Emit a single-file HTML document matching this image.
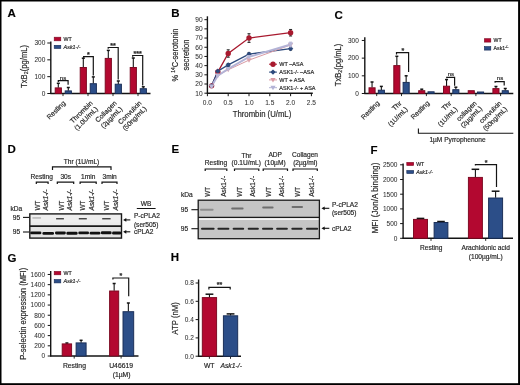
<!DOCTYPE html>
<html><head><meta charset="utf-8"><style>
html,body{margin:0;padding:0;background:#fff;}
body{width:520px;height:385px;overflow:hidden;position:relative;}
svg{position:absolute;left:0;top:0;font-family:"Liberation Sans", sans-serif;filter:blur(0.35px);}
text{stroke:#2a2a2a;stroke-width:0.18px;}
.tk{stroke-width:0.05px;fill:#333;}
</style></head><body>
<svg width="520" height="385" viewBox="0 0 520 385">
<rect x="0" y="0" width="520" height="385" fill="#fff"/>
<text x="7.60" y="16.80" font-size="11.5" text-anchor="start" font-weight="bold" fill="#000">A</text>
<line x1="50.80" y1="41.50" x2="50.80" y2="94.00" stroke="#141414" stroke-width="1.4" />
<line x1="47.30" y1="93.50" x2="50.80" y2="93.50" stroke="#141414" stroke-width="1" />
<text x="45.30" y="95.83" font-size="6.5" text-anchor="end" fill="#262626" class="tk">0</text>
<line x1="47.30" y1="76.67" x2="50.80" y2="76.67" stroke="#141414" stroke-width="1" />
<text x="45.30" y="79.00" font-size="6.5" text-anchor="end" fill="#262626" class="tk">100</text>
<line x1="47.30" y1="59.84" x2="50.80" y2="59.84" stroke="#141414" stroke-width="1" />
<text x="45.30" y="62.17" font-size="6.5" text-anchor="end" fill="#262626" class="tk">200</text>
<line x1="47.30" y1="43.01" x2="50.80" y2="43.01" stroke="#141414" stroke-width="1" />
<text x="45.30" y="45.34" font-size="6.5" text-anchor="end" fill="#262626" class="tk">300</text>
<line x1="50.30" y1="93.50" x2="150.50" y2="93.50" stroke="#141414" stroke-width="1.4" />
<line x1="63.00" y1="93.50" x2="63.00" y2="96.10" stroke="#141414" stroke-width="0.9" />
<line x1="88.00" y1="93.50" x2="88.00" y2="96.10" stroke="#141414" stroke-width="0.9" />
<line x1="113.00" y1="93.50" x2="113.00" y2="96.10" stroke="#141414" stroke-width="0.9" />
<line x1="138.00" y1="93.50" x2="138.00" y2="96.10" stroke="#141414" stroke-width="0.9" />
<line x1="58.30" y1="83.30" x2="58.30" y2="87.70" stroke="#141414" stroke-width="1.1" />
<line x1="56.80" y1="83.30" x2="59.80" y2="83.30" stroke="#141414" stroke-width="1.5" />
<rect x="55.20" y="87.90" width="6.20" height="5.60" fill="#b30830" stroke="#7a0820" stroke-width="0.95"/>
<line x1="68.30" y1="87.50" x2="68.30" y2="90.70" stroke="#141414" stroke-width="1.1" />
<line x1="66.80" y1="87.50" x2="69.80" y2="87.50" stroke="#141414" stroke-width="1.5" />
<rect x="65.20" y="90.90" width="6.20" height="2.60" fill="#2c4e88" stroke="#182c55" stroke-width="0.95"/>
<line x1="83.30" y1="58.20" x2="83.30" y2="67.30" stroke="#141414" stroke-width="1.1" />
<line x1="81.80" y1="58.20" x2="84.80" y2="58.20" stroke="#141414" stroke-width="1.5" />
<rect x="80.20" y="67.50" width="6.20" height="26.00" fill="#b30830" stroke="#7a0820" stroke-width="0.95"/>
<line x1="93.30" y1="76.90" x2="93.30" y2="83.50" stroke="#141414" stroke-width="1.1" />
<line x1="91.80" y1="76.90" x2="94.80" y2="76.90" stroke="#141414" stroke-width="1.5" />
<rect x="90.20" y="83.70" width="6.20" height="9.80" fill="#2c4e88" stroke="#182c55" stroke-width="0.95"/>
<line x1="108.30" y1="50.40" x2="108.30" y2="58.20" stroke="#141414" stroke-width="1.1" />
<line x1="106.80" y1="50.40" x2="109.80" y2="50.40" stroke="#141414" stroke-width="1.5" />
<rect x="105.20" y="58.40" width="6.20" height="35.10" fill="#b30830" stroke="#7a0820" stroke-width="0.95"/>
<line x1="118.30" y1="81.00" x2="118.30" y2="84.00" stroke="#141414" stroke-width="1.1" />
<line x1="116.80" y1="81.00" x2="119.80" y2="81.00" stroke="#141414" stroke-width="1.5" />
<rect x="115.20" y="84.20" width="6.20" height="9.30" fill="#2c4e88" stroke="#182c55" stroke-width="0.95"/>
<line x1="133.30" y1="58.00" x2="133.30" y2="67.30" stroke="#141414" stroke-width="1.1" />
<line x1="131.80" y1="58.00" x2="134.80" y2="58.00" stroke="#141414" stroke-width="1.5" />
<rect x="130.20" y="67.50" width="6.20" height="26.00" fill="#b30830" stroke="#7a0820" stroke-width="0.95"/>
<line x1="143.30" y1="86.80" x2="143.30" y2="88.50" stroke="#141414" stroke-width="1.1" />
<line x1="141.80" y1="86.80" x2="144.80" y2="86.80" stroke="#141414" stroke-width="1.5" />
<rect x="140.20" y="88.70" width="6.20" height="4.80" fill="#2c4e88" stroke="#182c55" stroke-width="0.95"/>
<path d="M58.30,81.90 L58.30,80.70 L68.10,80.70 L68.10,84.80" fill="none" stroke="#141414" stroke-width="1.2" />
<text x="63.00" y="79.55" font-size="6.0" text-anchor="middle" fill="#262626">ns</text>
<path d="M83.60,57.80 L83.60,56.60 L93.30,56.60 L93.30,75.60" fill="none" stroke="#141414" stroke-width="1.2" />
<text x="88.40" y="56.50" font-size="7" text-anchor="middle" font-weight="bold" fill="#262626">*</text>
<path d="M108.20,48.70 L108.20,47.50 L118.20,47.50 L118.20,79.60" fill="none" stroke="#141414" stroke-width="1.2" />
<text x="113.00" y="47.60" font-size="7" text-anchor="middle" font-weight="bold" fill="#262626">**</text>
<path d="M132.70,56.70 L132.70,55.50 L142.70,55.50 L142.70,85.60" fill="none" stroke="#141414" stroke-width="1.2" />
<text x="137.60" y="55.90" font-size="7" text-anchor="middle" font-weight="bold" fill="#262626">***</text>
<rect x="54.20" y="37.20" width="6.60" height="3.60" fill="#b30830" stroke="#7a0820" stroke-width="0.6"/>
<text x="63.60" y="40.90" font-size="5.3" text-anchor="start" fill="#262626">WT</text>
<rect x="54.20" y="45.30" width="6.60" height="3.20" fill="#2c4e88" stroke="#182c55" stroke-width="0.6"/>
<text x="63.60" y="48.93" font-size="5.4" text-anchor="start" font-style="italic" fill="#262626">Ask1-/-</text>
<text x="26.60" y="66.40" font-size="8.8" text-anchor="middle" fill="#262626" transform="rotate(-90 26.60 66.40)" textLength="43" lengthAdjust="spacingAndGlyphs">TxB<tspan font-size="6" dy="1.6">2</tspan><tspan dy="-1.6">(pg/mL)</tspan></text>
<text x="57.72" y="111.72" font-size="6.8" text-anchor="middle" fill="#262626" transform="rotate(-45 57.72 111.72)">Resting</text>
<text x="82.97" y="113.62" font-size="6.8" text-anchor="middle" fill="#262626" transform="rotate(-45 82.97 113.62)">Thrombin</text>
<text x="87.72" y="120.12" font-size="6.8" text-anchor="middle" fill="#262626" transform="rotate(-45 87.72 120.12)">(1.0U/mL)</text>
<text x="107.62" y="113.17" font-size="6.8" text-anchor="middle" fill="#262626" transform="rotate(-45 107.62 113.17)">Collagen</text>
<text x="113.22" y="119.07" font-size="6.8" text-anchor="middle" fill="#262626" transform="rotate(-45 113.22 119.07)">(2µg/mL)</text>
<text x="131.42" y="114.07" font-size="6.8" text-anchor="middle" fill="#262626" transform="rotate(-45 131.42 114.07)">Convulxin</text>
<text x="136.17" y="120.12" font-size="6.8" text-anchor="middle" fill="#262626" transform="rotate(-45 136.17 120.12)">(50ng/mL)</text>
<text x="171.20" y="16.90" font-size="11.5" text-anchor="start" font-weight="bold" fill="#000">B</text>
<line x1="207.40" y1="16.30" x2="207.40" y2="93.70" stroke="#141414" stroke-width="1.4" />
<line x1="204.40" y1="93.20" x2="207.40" y2="93.20" stroke="#141414" stroke-width="1" />
<text x="202.60" y="95.56" font-size="6.6" text-anchor="end" fill="#262626" class="tk">10</text>
<line x1="204.40" y1="84.01" x2="207.40" y2="84.01" stroke="#141414" stroke-width="1" />
<text x="202.60" y="86.37" font-size="6.6" text-anchor="end" fill="#262626" class="tk">20</text>
<line x1="204.40" y1="74.82" x2="207.40" y2="74.82" stroke="#141414" stroke-width="1" />
<text x="202.60" y="77.18" font-size="6.6" text-anchor="end" fill="#262626" class="tk">30</text>
<line x1="204.40" y1="65.63" x2="207.40" y2="65.63" stroke="#141414" stroke-width="1" />
<text x="202.60" y="67.99" font-size="6.6" text-anchor="end" fill="#262626" class="tk">40</text>
<line x1="204.40" y1="56.44" x2="207.40" y2="56.44" stroke="#141414" stroke-width="1" />
<text x="202.60" y="58.80" font-size="6.6" text-anchor="end" fill="#262626" class="tk">50</text>
<line x1="204.40" y1="47.25" x2="207.40" y2="47.25" stroke="#141414" stroke-width="1" />
<text x="202.60" y="49.61" font-size="6.6" text-anchor="end" fill="#262626" class="tk">60</text>
<line x1="204.40" y1="38.06" x2="207.40" y2="38.06" stroke="#141414" stroke-width="1" />
<text x="202.60" y="40.42" font-size="6.6" text-anchor="end" fill="#262626" class="tk">70</text>
<line x1="204.40" y1="28.87" x2="207.40" y2="28.87" stroke="#141414" stroke-width="1" />
<text x="202.60" y="31.23" font-size="6.6" text-anchor="end" fill="#262626" class="tk">80</text>
<line x1="204.40" y1="19.68" x2="207.40" y2="19.68" stroke="#141414" stroke-width="1" />
<text x="202.60" y="22.04" font-size="6.6" text-anchor="end" fill="#262626" class="tk">90</text>
<line x1="206.90" y1="93.20" x2="312.80" y2="93.20" stroke="#141414" stroke-width="1.4" />
<line x1="207.40" y1="93.20" x2="207.40" y2="96.20" stroke="#141414" stroke-width="1" />
<text x="207.40" y="105.26" font-size="6.6" text-anchor="middle" fill="#262626" class="tk">0.0</text>
<line x1="228.20" y1="93.20" x2="228.20" y2="96.20" stroke="#141414" stroke-width="1" />
<text x="228.20" y="105.26" font-size="6.6" text-anchor="middle" fill="#262626" class="tk">0.5</text>
<line x1="249.00" y1="93.20" x2="249.00" y2="96.20" stroke="#141414" stroke-width="1" />
<text x="249.00" y="105.26" font-size="6.6" text-anchor="middle" fill="#262626" class="tk">1.0</text>
<line x1="269.80" y1="93.20" x2="269.80" y2="96.20" stroke="#141414" stroke-width="1" />
<text x="269.80" y="105.26" font-size="6.6" text-anchor="middle" fill="#262626" class="tk">1.5</text>
<line x1="290.60" y1="93.20" x2="290.60" y2="96.20" stroke="#141414" stroke-width="1" />
<text x="290.60" y="105.26" font-size="6.6" text-anchor="middle" fill="#262626" class="tk">2.0</text>
<line x1="311.40" y1="93.20" x2="311.40" y2="96.20" stroke="#141414" stroke-width="1" />
<text x="311.40" y="105.26" font-size="6.6" text-anchor="middle" fill="#262626" class="tk">2.5</text>
<text x="262.00" y="117.24" font-size="8.5" text-anchor="middle" fill="#262626" textLength="58.5" lengthAdjust="spacingAndGlyphs">Thrombin (U/mL)</text>
<text x="178.00" y="55.00" font-size="8.4" text-anchor="middle" fill="#262626" transform="rotate(-90 178.00 55.00)" textLength="52.8" lengthAdjust="spacingAndGlyphs">% <tspan font-size="5.4" dy="-2.7">14</tspan><tspan dy="2.7">C-serotonin</tspan></text>
<text x="188.90" y="55.00" font-size="8.4" text-anchor="middle" fill="#262626" transform="rotate(-90 188.90 55.00)" textLength="31" lengthAdjust="spacingAndGlyphs">secretion</text>
<polyline points="211.56,85.85 217.80,72.06 228.20,53.50 249.00,38.06 290.60,32.73" fill="none" stroke="#a8192e" stroke-width="1.3"/>
<polyline points="211.56,85.85 217.80,71.14 228.20,64.89 249.00,54.14 290.60,48.63" fill="none" stroke="#2d4a7d" stroke-width="1.3"/>
<polyline points="211.56,86.77 217.80,75.28 228.20,69.77 249.00,60.12 290.60,44.95" fill="none" stroke="#d99aa4" stroke-width="1.0"/>
<polyline points="211.56,86.31 217.80,75.74 228.20,68.85 249.00,56.90 290.60,44.49" fill="none" stroke="#b3b3d6" stroke-width="1.9"/>
<circle cx="211.56" cy="85.85" r="2.7" fill="#a8192e"/>
<circle cx="217.80" cy="72.06" r="2.7" fill="#a8192e"/>
<line x1="228.20" y1="49.82" x2="228.20" y2="57.18" stroke="#2a2a2a" stroke-width="0.9" />
<line x1="226.70" y1="49.82" x2="229.70" y2="49.82" stroke="#2a2a2a" stroke-width="1.1" />
<line x1="226.70" y1="57.18" x2="229.70" y2="57.18" stroke="#2a2a2a" stroke-width="1.1" />
<circle cx="228.20" cy="53.50" r="2.7" fill="#a8192e"/>
<line x1="249.00" y1="33.74" x2="249.00" y2="42.38" stroke="#2a2a2a" stroke-width="0.9" />
<line x1="247.50" y1="33.74" x2="250.50" y2="33.74" stroke="#2a2a2a" stroke-width="1.1" />
<line x1="247.50" y1="42.38" x2="250.50" y2="42.38" stroke="#2a2a2a" stroke-width="1.1" />
<circle cx="249.00" cy="38.06" r="2.7" fill="#a8192e"/>
<line x1="290.60" y1="29.51" x2="290.60" y2="35.95" stroke="#2a2a2a" stroke-width="0.9" />
<line x1="289.10" y1="29.51" x2="292.10" y2="29.51" stroke="#2a2a2a" stroke-width="1.1" />
<line x1="289.10" y1="35.95" x2="292.10" y2="35.95" stroke="#2a2a2a" stroke-width="1.1" />
<circle cx="290.60" cy="32.73" r="2.7" fill="#a8192e"/>
<path d="M208.86,85.85 L211.56,83.15 L214.26,85.85 L211.56,88.55 Z" fill="#2d4a7d"/>
<path d="M215.10,71.14 L217.80,68.44 L220.50,71.14 L217.80,73.84 Z" fill="#2d4a7d"/>
<line x1="228.20" y1="63.52" x2="228.20" y2="66.27" stroke="#2a2a2a" stroke-width="0.9" />
<line x1="226.70" y1="63.52" x2="229.70" y2="63.52" stroke="#2a2a2a" stroke-width="1.1" />
<line x1="226.70" y1="66.27" x2="229.70" y2="66.27" stroke="#2a2a2a" stroke-width="1.1" />
<path d="M225.50,64.89 L228.20,62.19 L230.90,64.89 L228.20,67.59 Z" fill="#2d4a7d"/>
<line x1="249.00" y1="52.76" x2="249.00" y2="55.52" stroke="#2a2a2a" stroke-width="0.9" />
<line x1="247.50" y1="52.76" x2="250.50" y2="52.76" stroke="#2a2a2a" stroke-width="1.1" />
<line x1="247.50" y1="55.52" x2="250.50" y2="55.52" stroke="#2a2a2a" stroke-width="1.1" />
<path d="M246.30,54.14 L249.00,51.44 L251.70,54.14 L249.00,56.84 Z" fill="#2d4a7d"/>
<line x1="290.60" y1="47.25" x2="290.60" y2="50.01" stroke="#2a2a2a" stroke-width="0.9" />
<line x1="289.10" y1="47.25" x2="292.10" y2="47.25" stroke="#2a2a2a" stroke-width="1.1" />
<line x1="289.10" y1="50.01" x2="292.10" y2="50.01" stroke="#2a2a2a" stroke-width="1.1" />
<path d="M287.90,48.63 L290.60,45.93 L293.30,48.63 L290.60,51.33 Z" fill="#2d4a7d"/>
<path d="M208.96,84.87 L214.16,84.87 L211.56,89.37 Z" fill="#dca2ab"/>
<path d="M215.20,73.38 L220.40,73.38 L217.80,77.88 Z" fill="#dca2ab"/>
<path d="M225.60,67.87 L230.80,67.87 L228.20,72.37 Z" fill="#dca2ab"/>
<path d="M246.40,58.22 L251.60,58.22 L249.00,62.72 Z" fill="#dca2ab"/>
<path d="M288.00,43.05 L293.20,43.05 L290.60,47.55 Z" fill="#dca2ab"/>
<path d="M208.96,84.41 L214.16,84.41 L211.56,88.91 Z" fill="#b8b8d8"/>
<path d="M215.20,73.84 L220.40,73.84 L217.80,78.34 Z" fill="#b8b8d8"/>
<path d="M225.60,66.95 L230.80,66.95 L228.20,71.45 Z" fill="#b8b8d8"/>
<path d="M246.40,55.00 L251.60,55.00 L249.00,59.50 Z" fill="#b8b8d8"/>
<line x1="290.60" y1="42.20" x2="290.60" y2="46.79" stroke="#b3b3d6" stroke-width="0.9" />
<line x1="289.10" y1="42.20" x2="292.10" y2="42.20" stroke="#b3b3d6" stroke-width="1.1" />
<line x1="289.10" y1="46.79" x2="292.10" y2="46.79" stroke="#b3b3d6" stroke-width="1.1" />
<path d="M288.00,42.59 L293.20,42.59 L290.60,47.09 Z" fill="#b8b8d8"/>
<line x1="269.00" y1="64.20" x2="277.00" y2="64.20" stroke="#a8192e" stroke-width="1" />
<circle cx="273.00" cy="64.20" r="2.7" fill="#a8192e"/>
<text x="279.30" y="66.17" font-size="5.5" text-anchor="start" fill="#262626">WT –ASA</text>
<line x1="269.00" y1="72.10" x2="277.00" y2="72.10" stroke="#2d4a7d" stroke-width="1" />
<path d="M270.30,72.10 L273.00,69.40 L275.70,72.10 L273.00,74.80 Z" fill="#2d4a7d"/>
<text x="279.30" y="74.07" font-size="5.5" text-anchor="start" fill="#262626">ASK1-/- –ASA</text>
<line x1="269.00" y1="79.90" x2="277.00" y2="79.90" stroke="#d99aa4" stroke-width="1" />
<path d="M270.40,78.00 L275.60,78.00 L273.00,82.50 Z" fill="#d99aa4"/>
<text x="279.30" y="81.87" font-size="5.5" text-anchor="start" fill="#262626">WT + ASA</text>
<line x1="269.00" y1="87.70" x2="277.00" y2="87.70" stroke="#b3b3d6" stroke-width="1" />
<path d="M270.40,85.80 L275.60,85.80 L273.00,90.30 Z" fill="#b3b3d6"/>
<text x="279.30" y="89.67" font-size="5.5" text-anchor="start" fill="#262626">ASK1-/- + ASA</text>
<text x="334.60" y="18.60" font-size="11.5" text-anchor="start" font-weight="bold" fill="#000">C</text>
<line x1="364.80" y1="37.30" x2="364.80" y2="94.00" stroke="#141414" stroke-width="1.4" />
<line x1="361.80" y1="93.50" x2="364.80" y2="93.50" stroke="#141414" stroke-width="1" />
<text x="358.80" y="95.83" font-size="6.5" text-anchor="end" fill="#262626" class="tk">0</text>
<line x1="361.80" y1="75.82" x2="364.80" y2="75.82" stroke="#141414" stroke-width="1" />
<text x="358.80" y="78.15" font-size="6.5" text-anchor="end" fill="#262626" class="tk">100</text>
<line x1="361.80" y1="58.14" x2="364.80" y2="58.14" stroke="#141414" stroke-width="1" />
<text x="358.80" y="60.47" font-size="6.5" text-anchor="end" fill="#262626" class="tk">200</text>
<line x1="361.80" y1="40.46" x2="364.80" y2="40.46" stroke="#141414" stroke-width="1" />
<text x="358.80" y="42.79" font-size="6.5" text-anchor="end" fill="#262626" class="tk">300</text>
<line x1="364.30" y1="93.50" x2="513.30" y2="93.50" stroke="#141414" stroke-width="1.4" />
<line x1="376.70" y1="93.50" x2="376.70" y2="96.10" stroke="#141414" stroke-width="0.9" />
<line x1="401.50" y1="93.50" x2="401.50" y2="96.10" stroke="#141414" stroke-width="0.9" />
<line x1="426.40" y1="93.50" x2="426.40" y2="96.10" stroke="#141414" stroke-width="0.9" />
<line x1="451.20" y1="93.50" x2="451.20" y2="96.10" stroke="#141414" stroke-width="0.9" />
<line x1="475.90" y1="93.50" x2="475.90" y2="96.10" stroke="#141414" stroke-width="0.9" />
<line x1="500.60" y1="93.50" x2="500.60" y2="96.10" stroke="#141414" stroke-width="0.9" />
<line x1="372.05" y1="82.00" x2="372.05" y2="87.60" stroke="#141414" stroke-width="1.1" />
<line x1="370.55" y1="82.00" x2="373.55" y2="82.00" stroke="#141414" stroke-width="1.5" />
<rect x="369.00" y="87.80" width="6.10" height="5.70" fill="#b30830" stroke="#7a0820" stroke-width="0.95"/>
<line x1="381.35" y1="86.40" x2="381.35" y2="90.00" stroke="#141414" stroke-width="1.1" />
<line x1="379.85" y1="86.40" x2="382.85" y2="86.40" stroke="#141414" stroke-width="1.5" />
<rect x="378.30" y="90.20" width="6.10" height="3.30" fill="#2c4e88" stroke="#182c55" stroke-width="0.95"/>
<line x1="396.85" y1="56.30" x2="396.85" y2="65.40" stroke="#141414" stroke-width="1.1" />
<line x1="395.35" y1="56.30" x2="398.35" y2="56.30" stroke="#141414" stroke-width="1.5" />
<rect x="393.80" y="65.60" width="6.10" height="27.90" fill="#b30830" stroke="#7a0820" stroke-width="0.95"/>
<line x1="406.15" y1="75.80" x2="406.15" y2="82.20" stroke="#141414" stroke-width="1.1" />
<line x1="404.65" y1="75.80" x2="407.65" y2="75.80" stroke="#141414" stroke-width="1.5" />
<rect x="403.10" y="82.40" width="6.10" height="11.10" fill="#2c4e88" stroke="#182c55" stroke-width="0.95"/>
<line x1="421.75" y1="89.20" x2="421.75" y2="90.50" stroke="#141414" stroke-width="1.1" />
<line x1="420.25" y1="89.20" x2="423.25" y2="89.20" stroke="#141414" stroke-width="1.5" />
<rect x="418.70" y="90.70" width="6.10" height="2.80" fill="#b30830" stroke="#7a0820" stroke-width="0.95"/>
<rect x="428.00" y="91.80" width="6.10" height="1.70" fill="#2c4e88" stroke="#182c55" stroke-width="0.95"/>
<line x1="446.55" y1="79.60" x2="446.55" y2="86.00" stroke="#141414" stroke-width="1.1" />
<line x1="445.05" y1="79.60" x2="448.05" y2="79.60" stroke="#141414" stroke-width="1.5" />
<rect x="443.50" y="86.20" width="6.10" height="7.30" fill="#b30830" stroke="#7a0820" stroke-width="0.95"/>
<line x1="455.85" y1="87.20" x2="455.85" y2="89.50" stroke="#141414" stroke-width="1.1" />
<line x1="454.35" y1="87.20" x2="457.35" y2="87.20" stroke="#141414" stroke-width="1.5" />
<rect x="452.80" y="89.70" width="6.10" height="3.80" fill="#2c4e88" stroke="#182c55" stroke-width="0.95"/>
<rect x="468.20" y="90.70" width="6.10" height="2.80" fill="#b30830" stroke="#7a0820" stroke-width="0.95"/>
<rect x="477.50" y="92.00" width="6.10" height="1.50" fill="#2c4e88" stroke="#182c55" stroke-width="0.95"/>
<line x1="495.95" y1="86.50" x2="495.95" y2="88.40" stroke="#141414" stroke-width="1.1" />
<line x1="494.45" y1="86.50" x2="497.45" y2="86.50" stroke="#141414" stroke-width="1.5" />
<rect x="492.90" y="88.60" width="6.10" height="4.90" fill="#b30830" stroke="#7a0820" stroke-width="0.95"/>
<line x1="505.25" y1="88.50" x2="505.25" y2="90.50" stroke="#141414" stroke-width="1.1" />
<line x1="503.75" y1="88.50" x2="506.75" y2="88.50" stroke="#141414" stroke-width="1.5" />
<rect x="502.20" y="90.70" width="6.10" height="2.80" fill="#2c4e88" stroke="#182c55" stroke-width="0.95"/>
<path d="M396.50,54.50 L396.50,52.60 L408.60,52.60 L408.60,71.90" fill="none" stroke="#141414" stroke-width="1.2" />
<text x="402.80" y="52.90" font-size="7" text-anchor="middle" font-weight="bold" fill="#262626">*</text>
<path d="M446.75,78.30 L446.75,77.30 L454.60,77.30 L454.60,85.70" fill="none" stroke="#141414" stroke-width="1.2" />
<text x="450.90" y="75.75" font-size="6.0" text-anchor="middle" fill="#262626">ns</text>
<path d="M495.10,82.70 L495.10,81.70 L504.20,81.70 L504.20,85.60" fill="none" stroke="#141414" stroke-width="1.2" />
<text x="500.00" y="80.25" font-size="6.0" text-anchor="middle" fill="#262626">ns</text>
<rect x="484.40" y="38.70" width="6.40" height="3.40" fill="#b30830" stroke="#7a0820" stroke-width="0.6"/>
<text x="493.60" y="42.26" font-size="5.2" text-anchor="start" fill="#262626">WT</text>
<rect x="484.40" y="46.60" width="6.40" height="3.50" fill="#2c4e88" stroke="#182c55" stroke-width="0.6"/>
<text x="493.60" y="50.26" font-size="5.2" text-anchor="start" fill="#262626">Ask1<tspan font-size="3.6" dy="-2.4">-/-</tspan></text>
<text x="340.80" y="64.90" font-size="8.8" text-anchor="middle" fill="#262626" transform="rotate(-90 340.80 64.90)" textLength="42.5" lengthAdjust="spacingAndGlyphs">TxB<tspan font-size="6" dy="1.6">2</tspan><tspan dy="-1.6">(pg/mL)</tspan></text>
<text x="371.82" y="111.72" font-size="6.8" text-anchor="middle" fill="#262626" transform="rotate(-45 371.82 111.72)">Resting</text>
<text x="398.42" y="107.42" font-size="6.8" text-anchor="middle" fill="#262626" transform="rotate(-45 398.42 107.42)">Thr</text>
<text x="399.52" y="118.42" font-size="6.8" text-anchor="middle" fill="#262626" transform="rotate(-45 399.52 118.42)">(1U/mL)</text>
<text x="421.72" y="111.72" font-size="6.8" text-anchor="middle" fill="#262626" transform="rotate(-45 421.72 111.72)">Resting</text>
<text x="448.22" y="107.42" font-size="6.8" text-anchor="middle" fill="#262626" transform="rotate(-45 448.22 107.42)">Thr</text>
<text x="449.22" y="118.42" font-size="6.8" text-anchor="middle" fill="#262626" transform="rotate(-45 449.22 118.42)">(1U/mL)</text>
<text x="468.12" y="112.72" font-size="6.8" text-anchor="middle" fill="#262626" transform="rotate(-45 468.12 112.72)">collagen</text>
<text x="472.92" y="118.62" font-size="6.8" text-anchor="middle" fill="#262626" transform="rotate(-45 472.92 118.62)">(2µg/mL)</text>
<text x="491.92" y="113.72" font-size="6.8" text-anchor="middle" fill="#262626" transform="rotate(-45 491.92 113.72)">convulxin</text>
<text x="496.72" y="120.42" font-size="6.8" text-anchor="middle" fill="#262626" transform="rotate(-45 496.72 120.42)">(50ng/mL)</text>
<path d="M418.4,128.6 L418.4,133.3 L513.3,133.3" fill="none" stroke="#141414" stroke-width="1.1" />
<text x="457.50" y="142.36" font-size="6.6" text-anchor="middle" fill="#262626">1µM Pyrrophenone</text>
<text x="7.40" y="152.70" font-size="11.5" text-anchor="start" font-weight="bold" fill="#000">D</text>
<text x="81.50" y="164.46" font-size="6.6" text-anchor="middle" fill="#262626">Thr (1U/mL)</text>
<path d="M52.50,170.00 L52.50,166.80 L111.00,166.80 L111.00,170.00" fill="none" stroke="#141414" stroke-width="1.2" />
<text x="41.75" y="179.36" font-size="6.6" text-anchor="middle" fill="#262626">Resting</text>
<text x="65.75" y="179.36" font-size="6.6" text-anchor="middle" fill="#262626">30s</text>
<text x="88.25" y="179.36" font-size="6.6" text-anchor="middle" fill="#262626">1min</text>
<text x="109.65" y="179.36" font-size="6.6" text-anchor="middle" fill="#262626">3min</text>
<path d="M36.30,184.10 L36.30,182.10 L48.10,182.10 L48.10,184.10" fill="none" stroke="#141414" stroke-width="1.2" />
<path d="M57.30,184.10 L57.30,182.10 L73.70,182.10 L73.70,184.10" fill="none" stroke="#141414" stroke-width="1.2" />
<path d="M80.10,184.10 L80.10,182.10 L96.20,182.10 L96.20,184.10" fill="none" stroke="#141414" stroke-width="1.2" />
<path d="M102.00,184.10 L102.00,182.10 L117.00,182.10 L117.00,184.10" fill="none" stroke="#141414" stroke-width="1.2" />
<text x="39.54" y="210.50" font-size="6.4" text-anchor="start" fill="#262626" transform="rotate(-90 39.54 210.50)">WT</text>
<text x="63.89" y="210.50" font-size="6.4" text-anchor="start" fill="#262626" transform="rotate(-90 63.89 210.50)">WT</text>
<text x="85.09" y="210.50" font-size="6.4" text-anchor="start" fill="#262626" transform="rotate(-90 85.09 210.50)">WT</text>
<text x="109.09" y="210.50" font-size="6.4" text-anchor="start" fill="#262626" transform="rotate(-90 109.09 210.50)">WT</text>
<text x="47.86" y="210.50" font-size="6.6" text-anchor="start" font-style="italic" fill="#262626" transform="rotate(-90 47.86 210.50)">Ask1-/-</text>
<text x="72.36" y="210.50" font-size="6.6" text-anchor="start" font-style="italic" fill="#262626" transform="rotate(-90 72.36 210.50)">Ask1-/-</text>
<text x="93.86" y="210.50" font-size="6.6" text-anchor="start" font-style="italic" fill="#262626" transform="rotate(-90 93.86 210.50)">Ask1-/-</text>
<text x="117.56" y="210.50" font-size="6.6" text-anchor="start" font-style="italic" fill="#262626" transform="rotate(-90 117.56 210.50)">Ask1-/-</text>
<text x="16.30" y="211.06" font-size="6.6" text-anchor="middle" fill="#262626">kDa</text>
<text x="16.50" y="219.56" font-size="6.6" text-anchor="middle" fill="#262626">95</text>
<line x1="23.00" y1="217.40" x2="29.50" y2="217.40" stroke="#141414" stroke-width="1.1" />
<text x="16.50" y="234.26" font-size="6.6" text-anchor="middle" fill="#262626">95</text>
<line x1="23.00" y1="232.00" x2="29.50" y2="232.00" stroke="#141414" stroke-width="1.1" />
<rect x="29.80" y="213.90" width="91.70" height="24.20" fill="#ebebeb"/>
<rect x="29.80" y="213.90" width="91.70" height="8.50" fill="#eeeeee"/>
<rect x="29.80" y="226.60" width="91.70" height="11.50" fill="#e4e4e4"/>
<rect x="29.80" y="213.90" width="91.70" height="24.20" fill="none" stroke="#1a1a1a" stroke-width="1.4"/>
<line x1="29.80" y1="226.10" x2="121.50" y2="226.10" stroke="#1a1a1a" stroke-width="1.6" />
<rect x="32.40" y="217.3" width="8.60" height="1.3" fill="#222" opacity="0.3"/>
<rect x="56.10" y="218.1" width="7.80" height="1.3" fill="#222" opacity="0.9"/>
<rect x="78.80" y="218.1" width="8.00" height="1.3" fill="#222" opacity="0.9"/>
<rect x="102.20" y="218.1" width="8.40" height="1.3" fill="#222" opacity="0.9"/>
<rect x="30.20" y="231.4" width="11.20" height="2.9" rx="1.3" fill="#111"/>
<rect x="42.40" y="231.9" width="11.60" height="2.9" rx="1.3" fill="#111"/>
<rect x="55.00" y="231.5" width="10.80" height="2.9" rx="1.3" fill="#111"/>
<rect x="66.40" y="231.8" width="11.20" height="2.9" rx="1.3" fill="#111"/>
<rect x="78.30" y="231.4" width="10.70" height="2.9" rx="1.3" fill="#111"/>
<rect x="89.60" y="231.7" width="10.80" height="2.9" rx="1.3" fill="#111"/>
<rect x="100.90" y="231.3" width="10.70" height="2.9" rx="1.3" fill="#111"/>
<rect x="112.10" y="231.6" width="9.10" height="2.9" rx="1.3" fill="#111"/>
<line x1="125.10" y1="219.90" x2="130.30" y2="219.90" stroke="#111" stroke-width="1.1" />
<path d="M123.10,219.90 L126.30,218.00 L126.30,221.80 Z" fill="#111"/>
<line x1="125.10" y1="231.80" x2="130.30" y2="231.80" stroke="#111" stroke-width="1.1" />
<path d="M123.10,231.80 L126.30,229.90 L126.30,233.70 Z" fill="#111"/>
<text x="146.10" y="205.96" font-size="6.6" text-anchor="middle" fill="#262626">WB</text>
<line x1="136.80" y1="208.50" x2="155.60" y2="208.50" stroke="#141414" stroke-width="1" />
<text x="133.90" y="218.36" font-size="6.6" text-anchor="start" fill="#262626">P-cPLA2</text>
<text x="133.90" y="226.56" font-size="6.6" text-anchor="start" fill="#262626">(ser505)</text>
<text x="133.90" y="234.16" font-size="6.6" text-anchor="start" fill="#262626">cPLA2</text>
<text x="171.50" y="152.80" font-size="11.5" text-anchor="start" font-weight="bold" fill="#000">E</text>
<text x="215.90" y="165.16" font-size="6.6" text-anchor="middle" fill="#262626">Resting</text>
<text x="246.40" y="157.56" font-size="6.6" text-anchor="middle" fill="#262626">Thr</text>
<text x="246.20" y="165.16" font-size="6.6" text-anchor="middle" fill="#262626">(0.1U/mL)</text>
<text x="275.20" y="157.16" font-size="6.6" text-anchor="middle" fill="#262626">ADP</text>
<text x="275.10" y="165.16" font-size="6.6" text-anchor="middle" fill="#262626">(10µM)</text>
<text x="305.00" y="157.16" font-size="6.6" text-anchor="middle" fill="#262626">Collagen</text>
<text x="305.30" y="165.16" font-size="6.6" text-anchor="middle" fill="#262626">(2µg/ml)</text>
<path d="M205.20,171.00 L205.20,169.00 L226.80,169.00 L226.80,171.00" fill="none" stroke="#141414" stroke-width="1.2" />
<path d="M234.50,171.00 L234.50,169.00 L258.80,169.00 L258.80,171.00" fill="none" stroke="#141414" stroke-width="1.2" />
<path d="M263.20,171.00 L263.20,169.00 L287.50,169.00 L287.50,171.00" fill="none" stroke="#141414" stroke-width="1.2" />
<path d="M293.00,171.00 L293.00,169.00 L317.30,169.00 L317.30,171.00" fill="none" stroke="#141414" stroke-width="1.2" />
<text x="186.80" y="197.16" font-size="6.6" text-anchor="middle" fill="#262626">kDa</text>
<text x="210.39" y="196.80" font-size="6.4" text-anchor="start" fill="#262626" transform="rotate(-90 210.39 196.80)">WT</text>
<text x="241.59" y="196.80" font-size="6.4" text-anchor="start" fill="#262626" transform="rotate(-90 241.59 196.80)">WT</text>
<text x="270.59" y="196.80" font-size="6.4" text-anchor="start" fill="#262626" transform="rotate(-90 270.59 196.80)">WT</text>
<text x="300.09" y="196.80" font-size="6.4" text-anchor="start" fill="#262626" transform="rotate(-90 300.09 196.80)">WT</text>
<text x="225.76" y="196.80" font-size="6.6" text-anchor="start" fill="#262626" transform="rotate(-90 225.76 196.80)">Ask1-/-</text>
<text x="255.36" y="196.80" font-size="6.6" text-anchor="start" fill="#262626" transform="rotate(-90 255.36 196.80)">Ask1-/-</text>
<text x="284.46" y="196.80" font-size="6.6" text-anchor="start" fill="#262626" transform="rotate(-90 284.46 196.80)">Ask1-/-</text>
<text x="314.46" y="196.80" font-size="6.6" text-anchor="start" fill="#262626" transform="rotate(-90 314.46 196.80)">Ask1-/-</text>
<rect x="198.20" y="200.20" width="121.20" height="38.50" fill="#c5c5c5"/>
<rect x="198.20" y="218.40" width="121.20" height="1.40" fill="#ffffff"/>
<line x1="198.20" y1="217.40" x2="319.40" y2="217.40" stroke="#1a1a1a" stroke-width="1.4" />
<rect x="198.20" y="200.20" width="121.20" height="38.50" fill="none" stroke="#1a1a1a" stroke-width="1.3"/>
<rect x="200.00" y="208.8" width="13.60" height="1.9" rx="0.9" fill="#4a4a4a" opacity="0.45"/>
<rect x="231.20" y="207.5" width="12.40" height="1.9" rx="0.9" fill="#4a4a4a" opacity="0.7"/>
<rect x="262.20" y="206.6" width="11.40" height="1.9" rx="0.9" fill="#4a4a4a" opacity="0.7"/>
<rect x="291.60" y="206.0" width="11.40" height="1.9" rx="0.9" fill="#4a4a4a" opacity="0.7"/>
<rect x="201.00" y="227.7" width="13.60" height="2.1" rx="1" fill="#262626"/>
<rect x="217.40" y="227.7" width="12.00" height="2.1" rx="1" fill="#262626"/>
<rect x="232.60" y="227.7" width="11.60" height="2.1" rx="1" fill="#262626"/>
<rect x="247.70" y="227.7" width="11.20" height="2.1" rx="1" fill="#262626"/>
<rect x="262.00" y="227.7" width="11.20" height="2.1" rx="1" fill="#262626"/>
<rect x="276.10" y="227.7" width="11.80" height="2.1" rx="1" fill="#262626"/>
<rect x="291.30" y="227.7" width="11.30" height="2.1" rx="1" fill="#262626"/>
<rect x="306.00" y="227.7" width="12.20" height="2.1" rx="1" fill="#262626"/>
<text x="184.50" y="212.06" font-size="6.6" text-anchor="middle" fill="#262626">95</text>
<line x1="191.40" y1="209.70" x2="198.20" y2="209.70" stroke="#141414" stroke-width="1.1" />
<text x="184.50" y="231.06" font-size="6.6" text-anchor="middle" fill="#262626">95</text>
<line x1="191.40" y1="228.70" x2="198.20" y2="228.70" stroke="#141414" stroke-width="1.1" />
<line x1="323.50" y1="208.30" x2="329.30" y2="208.30" stroke="#111" stroke-width="1.1" />
<path d="M321.50,208.30 L324.70,206.40 L324.70,210.20 Z" fill="#111"/>
<line x1="323.50" y1="228.30" x2="329.30" y2="228.30" stroke="#111" stroke-width="1.1" />
<path d="M321.50,228.30 L324.70,226.40 L324.70,230.20 Z" fill="#111"/>
<text x="331.90" y="206.66" font-size="6.6" text-anchor="start" fill="#262626">P-cPLA2</text>
<text x="331.90" y="215.26" font-size="6.6" text-anchor="start" fill="#262626">(ser505)</text>
<text x="331.90" y="230.66" font-size="6.6" text-anchor="start" fill="#262626">cPLA2</text>
<text x="370.40" y="153.50" font-size="11.5" text-anchor="start" font-weight="bold" fill="#000">F</text>
<line x1="403.10" y1="163.50" x2="403.10" y2="238.80" stroke="#141414" stroke-width="1.4" />
<line x1="400.10" y1="238.30" x2="403.10" y2="238.30" stroke="#141414" stroke-width="1" />
<text x="397.40" y="240.63" font-size="6.5" text-anchor="end" fill="#262626" class="tk">0</text>
<line x1="400.10" y1="223.60" x2="403.10" y2="223.60" stroke="#141414" stroke-width="1" />
<text x="397.40" y="225.93" font-size="6.5" text-anchor="end" fill="#262626" class="tk">500</text>
<line x1="400.10" y1="208.90" x2="403.10" y2="208.90" stroke="#141414" stroke-width="1" />
<text x="397.40" y="211.23" font-size="6.5" text-anchor="end" fill="#262626" class="tk">1000</text>
<line x1="400.10" y1="194.20" x2="403.10" y2="194.20" stroke="#141414" stroke-width="1" />
<text x="397.40" y="196.53" font-size="6.5" text-anchor="end" fill="#262626" class="tk">1500</text>
<line x1="400.10" y1="179.50" x2="403.10" y2="179.50" stroke="#141414" stroke-width="1" />
<text x="397.40" y="181.83" font-size="6.5" text-anchor="end" fill="#262626" class="tk">2000</text>
<line x1="400.10" y1="164.80" x2="403.10" y2="164.80" stroke="#141414" stroke-width="1" />
<text x="397.40" y="167.13" font-size="6.5" text-anchor="end" fill="#262626" class="tk">2500</text>
<line x1="402.60" y1="238.30" x2="513.00" y2="238.30" stroke="#141414" stroke-width="1.4" />
<line x1="431.00" y1="238.30" x2="431.00" y2="240.90" stroke="#141414" stroke-width="0.9" />
<line x1="485.70" y1="238.30" x2="485.70" y2="240.90" stroke="#141414" stroke-width="0.9" />
<line x1="420.50" y1="218.40" x2="420.50" y2="219.20" stroke="#141414" stroke-width="1.1" />
<line x1="416.70" y1="218.40" x2="424.30" y2="218.40" stroke="#141414" stroke-width="1.5" />
<rect x="413.50" y="219.40" width="14.00" height="18.90" fill="#b30830" stroke="#7a0820" stroke-width="0.95"/>
<line x1="441.00" y1="221.50" x2="441.00" y2="222.30" stroke="#141414" stroke-width="1.1" />
<line x1="437.20" y1="221.50" x2="444.80" y2="221.50" stroke="#141414" stroke-width="1.5" />
<rect x="434.10" y="222.50" width="13.80" height="15.80" fill="#2c4e88" stroke="#182c55" stroke-width="0.95"/>
<line x1="475.40" y1="169.30" x2="475.40" y2="177.20" stroke="#141414" stroke-width="1.1" />
<line x1="471.60" y1="169.30" x2="479.20" y2="169.30" stroke="#141414" stroke-width="1.5" />
<rect x="468.40" y="177.40" width="14.00" height="60.90" fill="#b30830" stroke="#7a0820" stroke-width="0.95"/>
<line x1="495.60" y1="191.20" x2="495.60" y2="197.80" stroke="#141414" stroke-width="1.1" />
<line x1="491.70" y1="191.20" x2="499.50" y2="191.20" stroke="#141414" stroke-width="1.5" />
<rect x="488.60" y="198.00" width="14.00" height="40.30" fill="#2c4e88" stroke="#182c55" stroke-width="0.95"/>
<path d="M475.40,165.40 L475.40,164.60 L496.50,164.60 L496.50,187.10" fill="none" stroke="#141414" stroke-width="1.2" />
<text x="486.00" y="164.80" font-size="7" text-anchor="middle" font-weight="bold" fill="#262626">*</text>
<rect x="406.80" y="162.40" width="6.90" height="3.10" fill="#b30830" stroke="#7a0820" stroke-width="0.6"/>
<text x="416.20" y="165.96" font-size="5.2" text-anchor="start" fill="#262626">WT</text>
<rect x="406.80" y="170.50" width="6.90" height="3.00" fill="#2c4e88" stroke="#182c55" stroke-width="0.6"/>
<text x="416.20" y="174.00" font-size="5.3" text-anchor="start" font-style="italic" fill="#262626">Ask1-/-</text>
<text x="377.90" y="198.10" font-size="8.2" text-anchor="middle" fill="#262626" transform="rotate(-90 377.90 198.10)" textLength="71" lengthAdjust="spacingAndGlyphs">MFI (Jon/A binding)</text>
<text x="431.20" y="250.36" font-size="6.6" text-anchor="middle" fill="#262626">Resting</text>
<text x="485.70" y="250.36" font-size="6.6" text-anchor="middle" fill="#262626">Arachidonic acid</text>
<text x="485.70" y="259.36" font-size="6.6" text-anchor="middle" fill="#262626">(100µg/mL)</text>
<text x="7.60" y="262.00" font-size="11.5" text-anchor="start" font-weight="bold" fill="#000">G</text>
<line x1="50.70" y1="270.90" x2="50.70" y2="356.50" stroke="#141414" stroke-width="1.4" />
<line x1="47.70" y1="356.00" x2="50.70" y2="356.00" stroke="#141414" stroke-width="1" />
<text x="45.00" y="358.33" font-size="6.5" text-anchor="end" fill="#262626" class="tk">0</text>
<line x1="47.70" y1="345.81" x2="50.70" y2="345.81" stroke="#141414" stroke-width="1" />
<text x="45.00" y="348.14" font-size="6.5" text-anchor="end" fill="#262626" class="tk">200</text>
<line x1="47.70" y1="335.62" x2="50.70" y2="335.62" stroke="#141414" stroke-width="1" />
<text x="45.00" y="337.95" font-size="6.5" text-anchor="end" fill="#262626" class="tk">400</text>
<line x1="47.70" y1="325.43" x2="50.70" y2="325.43" stroke="#141414" stroke-width="1" />
<text x="45.00" y="327.76" font-size="6.5" text-anchor="end" fill="#262626" class="tk">600</text>
<line x1="47.70" y1="315.24" x2="50.70" y2="315.24" stroke="#141414" stroke-width="1" />
<text x="45.00" y="317.57" font-size="6.5" text-anchor="end" fill="#262626" class="tk">800</text>
<line x1="47.70" y1="305.05" x2="50.70" y2="305.05" stroke="#141414" stroke-width="1" />
<text x="45.00" y="307.38" font-size="6.5" text-anchor="end" fill="#262626" class="tk">1000</text>
<line x1="47.70" y1="294.86" x2="50.70" y2="294.86" stroke="#141414" stroke-width="1" />
<text x="45.00" y="297.19" font-size="6.5" text-anchor="end" fill="#262626" class="tk">1200</text>
<line x1="47.70" y1="284.67" x2="50.70" y2="284.67" stroke="#141414" stroke-width="1" />
<text x="45.00" y="287.00" font-size="6.5" text-anchor="end" fill="#262626" class="tk">1400</text>
<line x1="47.70" y1="274.48" x2="50.70" y2="274.48" stroke="#141414" stroke-width="1" />
<text x="45.00" y="276.81" font-size="6.5" text-anchor="end" fill="#262626" class="tk">1600</text>
<line x1="50.20" y1="356.00" x2="138.50" y2="356.00" stroke="#141414" stroke-width="1.4" />
<line x1="74.20" y1="356.00" x2="74.20" y2="358.60" stroke="#141414" stroke-width="0.9" />
<line x1="121.10" y1="356.00" x2="121.10" y2="358.60" stroke="#141414" stroke-width="0.9" />
<line x1="66.90" y1="343.00" x2="66.90" y2="343.70" stroke="#141414" stroke-width="1.1" />
<line x1="65.40" y1="343.00" x2="68.40" y2="343.00" stroke="#141414" stroke-width="1.5" />
<rect x="62.20" y="343.90" width="9.40" height="12.10" fill="#b30830" stroke="#7a0820" stroke-width="0.95"/>
<line x1="81.10" y1="340.30" x2="81.10" y2="342.70" stroke="#141414" stroke-width="1.1" />
<line x1="79.60" y1="340.30" x2="82.60" y2="340.30" stroke="#141414" stroke-width="1.5" />
<rect x="76.10" y="342.90" width="10.00" height="13.10" fill="#2c4e88" stroke="#182c55" stroke-width="0.95"/>
<line x1="114.15" y1="283.50" x2="114.15" y2="290.80" stroke="#141414" stroke-width="1.1" />
<line x1="112.65" y1="283.50" x2="115.65" y2="283.50" stroke="#141414" stroke-width="1.5" />
<rect x="109.60" y="291.00" width="9.10" height="65.00" fill="#b30830" stroke="#7a0820" stroke-width="0.95"/>
<line x1="128.35" y1="303.00" x2="128.35" y2="311.50" stroke="#141414" stroke-width="1.1" />
<line x1="126.85" y1="303.00" x2="129.85" y2="303.00" stroke="#141414" stroke-width="1.5" />
<rect x="123.00" y="311.70" width="10.70" height="44.30" fill="#2c4e88" stroke="#182c55" stroke-width="0.95"/>
<path d="M112.90,279.60 L112.90,278.00 L128.70,278.00 L128.70,296.30" fill="none" stroke="#141414" stroke-width="1.2" />
<text x="120.80" y="278.10" font-size="7" text-anchor="middle" font-weight="bold" fill="#262626">*</text>
<rect x="54.20" y="271.40" width="6.60" height="3.40" fill="#b30830" stroke="#7a0820" stroke-width="0.6"/>
<text x="63.60" y="275.30" font-size="5.3" text-anchor="start" fill="#262626">WT</text>
<rect x="54.20" y="279.50" width="6.60" height="3.40" fill="#2c4e88" stroke="#182c55" stroke-width="0.6"/>
<text x="63.60" y="283.13" font-size="5.4" text-anchor="start" font-style="italic" fill="#262626">Ask1-/-</text>
<text x="26.00" y="313.80" font-size="8.2" text-anchor="middle" fill="#262626" transform="rotate(-90 26.00 313.80)" textLength="92" lengthAdjust="spacingAndGlyphs">P-selectin expression (MFI)</text>
<text x="74.40" y="367.93" font-size="6.8" text-anchor="middle" fill="#262626">Resting</text>
<text x="121.10" y="367.93" font-size="6.8" text-anchor="middle" fill="#262626">U46619</text>
<text x="121.60" y="376.63" font-size="6.8" text-anchor="middle" fill="#262626">(1µM)</text>
<text x="170.80" y="261.20" font-size="11.5" text-anchor="start" font-weight="bold" fill="#000">H</text>
<line x1="198.60" y1="279.50" x2="198.60" y2="356.70" stroke="#141414" stroke-width="1.4" />
<line x1="195.60" y1="356.20" x2="198.60" y2="356.20" stroke="#141414" stroke-width="1" />
<text x="193.80" y="358.53" font-size="6.5" text-anchor="end" fill="#262626" class="tk">0.0</text>
<line x1="195.60" y1="337.90" x2="198.60" y2="337.90" stroke="#141414" stroke-width="1" />
<text x="193.80" y="340.23" font-size="6.5" text-anchor="end" fill="#262626" class="tk">0.2</text>
<line x1="195.60" y1="319.60" x2="198.60" y2="319.60" stroke="#141414" stroke-width="1" />
<text x="193.80" y="321.93" font-size="6.5" text-anchor="end" fill="#262626" class="tk">0.4</text>
<line x1="195.60" y1="301.30" x2="198.60" y2="301.30" stroke="#141414" stroke-width="1" />
<text x="193.80" y="303.63" font-size="6.5" text-anchor="end" fill="#262626" class="tk">0.6</text>
<line x1="195.60" y1="283.00" x2="198.60" y2="283.00" stroke="#141414" stroke-width="1" />
<text x="193.80" y="285.33" font-size="6.5" text-anchor="end" fill="#262626" class="tk">0.8</text>
<line x1="198.10" y1="356.20" x2="241.00" y2="356.20" stroke="#141414" stroke-width="1.4" />
<line x1="209.40" y1="356.20" x2="209.40" y2="358.80" stroke="#141414" stroke-width="0.9" />
<line x1="230.50" y1="356.20" x2="230.50" y2="358.80" stroke="#141414" stroke-width="0.9" />
<line x1="209.45" y1="294.20" x2="209.45" y2="297.40" stroke="#141414" stroke-width="1.1" />
<line x1="205.55" y1="294.20" x2="213.35" y2="294.20" stroke="#141414" stroke-width="1.5" />
<rect x="202.30" y="297.60" width="14.30" height="58.60" fill="#b30830" stroke="#7a0820" stroke-width="0.95"/>
<line x1="230.55" y1="313.90" x2="230.55" y2="315.60" stroke="#141414" stroke-width="1.1" />
<line x1="226.65" y1="313.90" x2="234.45" y2="313.90" stroke="#141414" stroke-width="1.5" />
<rect x="223.40" y="315.80" width="14.30" height="40.40" fill="#2c4e88" stroke="#182c55" stroke-width="0.95"/>
<path d="M208.90,289.60 L208.90,287.30 L230.20,287.30 L230.20,289.60" fill="none" stroke="#141414" stroke-width="1.2" />
<text x="219.60" y="286.70" font-size="7" text-anchor="middle" font-weight="bold" fill="#262626">**</text>
<text x="178.50" y="318.40" font-size="8.6" text-anchor="middle" fill="#262626" transform="rotate(-90 178.50 318.40)" textLength="32.5" lengthAdjust="spacingAndGlyphs">ATP (nM)</text>
<text x="209.20" y="367.53" font-size="6.8" text-anchor="middle" fill="#262626">WT</text>
<text x="231.20" y="367.53" font-size="6.8" text-anchor="middle" font-style="italic" fill="#262626">Ask1-/-</text>
<rect x="0" y="0" width="520" height="1.5" fill="#000"/><rect x="0" y="0" width="1.5" height="385" fill="#000"/><rect x="518.1" y="0" width="1.9" height="385" fill="#000"/><rect x="0" y="383.2" width="520" height="1.8" fill="#000"/>
</svg>
</body></html>
